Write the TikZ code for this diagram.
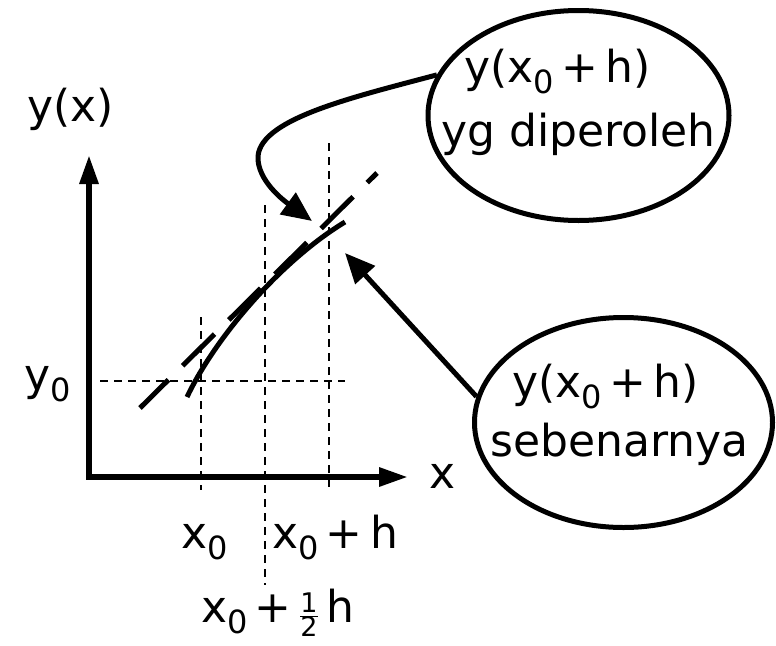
\documentclass[tikz,border=0pt]{standalone}
\usepackage{fontspec}
\setmainfont{DejaVu Sans}
\usetikzlibrary{arrows.meta,shapes.geometric}
\newcommand{\szero}{\raisebox{-11pt}{\fontsize{32}{32}\selectfont 0}}
\newcommand{\fsmall}{\fontsize{27}{27}\selectfont}
\begin{document}
\begin{tikzpicture}[x=1pt,y=-1pt,
  every node/.style={font=\fontsize{44}{52}\selectfont, inner sep=0pt},
  axis/.style={line width=6pt, line join=miter, {Triangle[length=29pt,width=18pt]}-{Triangle[length=29pt,width=18pt]}},
  guide/.style={line width=2pt, dash pattern=on 8pt off 6pt},
  soln/.style={line width=5pt},
  approx/.style={line width=5pt, dash pattern=on 45pt off 20pt, dash phase=5pt},
  bubble/.style={draw, ellipse, line width=5pt, inner sep=0pt},
  pointer/.style={line width=5pt, -{Triangle[length=30pt,width=26pt]}},
  lbl/.style={anchor=base west}]
\useasboundingbox (0,0) rectangle (776,645);
% axes
\coordinate (O) at (89,477);
\coordinate (ytip) at (89,155);
\coordinate (xtip) at (408,477);
\draw[axis] (ytip) -- (O) -- (xtip);
% guides
\draw[guide] (201,317) -- (201,490);
\draw[guide] (265,205) -- (265,585);
\draw[guide] (329,143) -- (329,488);
\draw[guide] (100,381) -- (345,381);
% curves
\draw[soln] (187,397) .. controls (216,336) and (282,260) .. (345,222);
\draw[approx] (140,408) -- (377,173);
% labels
\node[lbl] (ylab) at (27,121) {y(x)};
\node[lbl] (y0lab) at (24,390) {y\szero};
\node[lbl] (xlab) at (429,488) {x};
\node[lbl] (x0lab) at (181,548) {x\szero};
\node[lbl] (x0hlab) at (272,548) {x\szero\,+\,h};
\node[lbl] (x0hhlab) at (201,622) {x\szero\,+\,$\frac{\hbox{\fsmall 1}}{\hbox{\fsmall 2}}$\,h};
% bubbles
\node[bubble, minimum width=301pt, minimum height=210pt] (e1) at (578.5,115.5) {};
\node[lbl] (t1a) at (464,82) {y(x\szero\,+\,h)};
\node[lbl] (t1b) at (441,146) {yg diperoleh};
\node[bubble, minimum width=298pt, minimum height=210pt] (e2) at (623.5,422.5) {};
\node[lbl] (t2a) at (512,397) {y(x\szero\,+\,h)};
\node[lbl] (t2b) at (490,456) {sebenarnya};
% pointers
\coordinate (p1) at (312,221);
\coordinate (p2) at (345,253);
\draw[pointer] (e1.164) .. controls (350,98) and (255,120) .. (258,160) .. controls (260,185) and (290,205) .. (p1);
\draw[pointer] (e2.170) -- (p2);
\end{tikzpicture}
\end{document}
